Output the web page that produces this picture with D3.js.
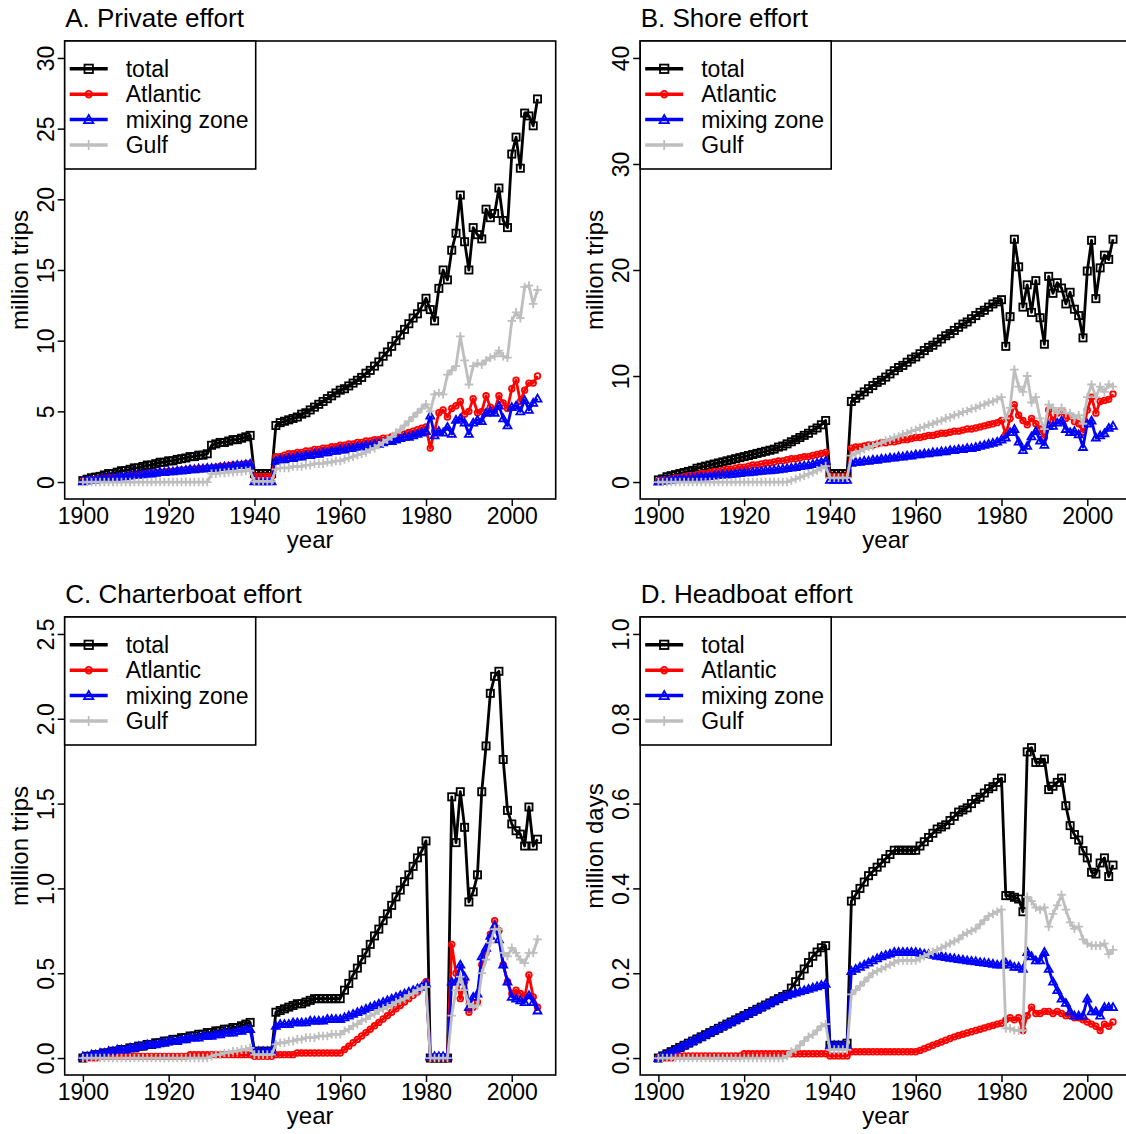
<!DOCTYPE html>
<html>
<head>
<meta charset="utf-8">
<script src="https://cdn.jsdelivr.net/npm/d3@7"></script>
<style>
  body { margin: 0; background: #fff; }
  text { font-family: "Liberation Sans", Arial, sans-serif; fill: #000; }
</style>
</head>
<body>
<svg id="chart" width="1126" height="1134"></svg>
<script>
// ---- data: recreational fishing effort by region, 1900-2006 ----
const firstYear = 1900, lastYear = 2006;
const years = d3.range(firstYear, lastYear + 1);

const seriesNames = ["total", "Atlantic", "mixing zone", "Gulf"];
const xTickValues = [1900, 1920, 1940, 1960, 1980, 2000];

// A. Private effort (million trips)
const privateTotal = [
  0.1,0.2,0.3,0.35,0.4,0.5,0.6,0.6,0.7,0.8,
  0.8,0.9,1.0,1.0,1.1,1.2,1.2,1.3,1.4,1.4,
  1.5,1.5,1.6,1.65,1.7,1.8,1.8,1.9,1.9,2.0,
  2.6,2.7,2.8,2.8,2.9,3.0,3.0,3.1,3.2,3.3,
  0.6,0.6,0.6,0.6,0.6,4.0,4.2,4.3,4.4,4.5,
  4.6,4.8,4.9,5.1,5.3,5.5,5.7,5.9,6.1,6.3,
  6.5,6.6,6.8,7.0,7.2,7.4,7.7,7.9,8.2,8.5,
  8.9,9.2,9.6,10.0,10.4,10.8,11.2,11.6,11.9,12.4,
  13.0,12.2,11.4,13.7,15.0,14.3,16.4,17.6,20.3,17.0,
  15.0,18.0,17.5,17.2,19.3,18.7,19.0,20.8,18.5,18.0,
  23.2,24.4,22.2,26.1,25.9,25.2,27.1
];
const privateAtlantic = [
  0.05,0.1,0.15,0.2,0.2,0.25,0.3,0.3,0.35,0.4,
  0.4,0.45,0.5,0.5,0.55,0.6,0.6,0.65,0.7,0.7,
  0.75,0.75,0.8,0.85,0.85,0.9,0.9,0.95,0.95,1.0,
  1.0,1.05,1.1,1.1,1.15,1.2,1.2,1.25,1.3,1.3,
  0.4,0.4,0.4,0.4,0.4,1.8,1.8,1.9,2.0,2.0,
  2.1,2.1,2.2,2.2,2.3,2.3,2.4,2.4,2.5,2.5,
  2.6,2.6,2.7,2.7,2.8,2.8,2.9,2.9,3.0,3.0,
  3.1,3.1,3.2,3.3,3.3,3.4,3.5,3.6,3.7,3.8,
  3.9,2.4,3.6,4.9,5.1,4.6,5.2,5.4,5.7,4.8,
  5.0,5.9,4.9,5.0,6.1,5.3,5.1,6.1,5.6,5.2,
  6.6,7.2,5.7,6.5,7.0,7.0,7.5
];
const privateMixing = [
  0.05,0.1,0.15,0.15,0.2,0.25,0.3,0.3,0.35,0.4,
  0.4,0.45,0.5,0.5,0.55,0.6,0.6,0.65,0.7,0.7,
  0.75,0.75,0.8,0.8,0.85,0.9,0.9,0.95,0.95,1.0,
  1.0,1.0,1.05,1.1,1.1,1.15,1.2,1.2,1.25,1.3,
  0.05,0.05,0.05,0.05,0.05,1.5,1.6,1.6,1.7,1.7,
  1.8,1.8,1.9,1.9,2.0,2.0,2.1,2.1,2.2,2.2,
  2.3,2.3,2.4,2.4,2.5,2.5,2.6,2.6,2.7,2.7,
  2.8,2.9,2.9,3.0,3.1,3.2,3.2,3.3,3.4,3.5,
  3.6,4.7,3.3,3.6,3.5,3.9,3.4,4.4,4.5,4.2,
  3.4,4.2,4.4,4.3,4.9,5.0,4.9,5.4,4.5,4.0,
  5.3,5.4,5.0,5.8,5.1,5.6,5.9
];
const privateGulf = [
  0,0,0,0,0,0,0,0,0,0,
  0,0,0,0,0,0,0,0,0,0,
  0,0,0,0,0,0,0,0,0,0,
  0.6,0.6,0.65,0.65,0.7,0.7,0.75,0.75,0.8,0.8,
  0.05,0.05,0.05,0.05,0.05,0.9,1.0,1.0,1.0,1.1,
  1.1,1.1,1.2,1.2,1.3,1.3,1.3,1.4,1.4,1.5,
  1.5,1.6,1.7,1.8,1.9,2.0,2.1,2.3,2.4,2.6,
  2.8,3.0,3.2,3.5,3.7,4.0,4.3,4.6,4.9,5.2,
  5.5,5.0,6.2,6.3,6.2,7.6,7.9,8.2,10.3,8.6,
  6.9,8.2,8.4,8.3,8.6,8.8,8.9,9.3,8.9,8.8,
  11.4,12.0,11.6,13.8,13.9,12.6,13.6
];

// B. Shore effort (million trips)
const shoreTotal = [
  0.2,0.3,0.5,0.6,0.7,0.8,0.9,1.0,1.1,1.3,
  1.4,1.5,1.6,1.7,1.8,1.9,2.0,2.1,2.2,2.3,
  2.4,2.5,2.6,2.7,2.8,2.9,3.0,3.1,3.3,3.4,
  3.6,3.8,4.0,4.2,4.4,4.6,4.9,5.1,5.4,5.8,
  0.8,0.8,0.8,0.8,0.8,7.6,7.9,8.2,8.5,8.8,
  9.1,9.4,9.6,9.9,10.2,10.5,10.8,11.0,11.3,11.6,
  11.8,12.1,12.4,12.7,12.9,13.2,13.5,13.8,14.0,14.3,
  14.6,14.9,15.1,15.4,15.7,16.0,16.2,16.5,16.8,17.0,
  17.2,12.8,15.6,22.9,20.3,16.5,18.6,16.0,19.0,15.5,
  13.0,19.4,17.8,18.8,18.3,16.8,17.9,16.3,15.7,13.6,
  19.9,22.8,17.3,20.2,21.4,21.0,22.9
];
const shoreAtlantic = [
  0.1,0.2,0.2,0.3,0.4,0.4,0.5,0.6,0.6,0.7,
  0.8,0.8,0.9,1.0,1.0,1.1,1.2,1.2,1.3,1.4,
  1.4,1.5,1.6,1.6,1.7,1.8,1.8,1.9,2.0,2.0,
  2.1,2.2,2.2,2.3,2.4,2.4,2.5,2.6,2.7,2.8,
  0.5,0.5,0.5,0.5,0.5,3.2,3.3,3.3,3.4,3.5,
  3.5,3.6,3.7,3.7,3.8,3.8,3.9,4.0,4.0,4.1,
  4.2,4.2,4.3,4.4,4.4,4.5,4.6,4.6,4.7,4.8,
  4.8,4.9,5.0,5.0,5.1,5.2,5.3,5.4,5.5,5.6,
  5.8,4.5,6.0,7.3,6.3,5.8,5.4,6.0,5.5,5.0,
  4.2,6.8,5.8,6.5,6.7,6.0,6.2,5.7,5.5,4.7,
  6.8,8.0,6.5,7.6,7.7,7.8,8.3
];
const shoreMixing = [
  0.05,0.1,0.15,0.2,0.25,0.3,0.3,0.35,0.4,0.45,
  0.5,0.5,0.55,0.6,0.65,0.7,0.7,0.75,0.8,0.85,
  0.9,0.9,0.95,1.0,1.05,1.1,1.1,1.15,1.2,1.25,
  1.3,1.35,1.4,1.5,1.55,1.6,1.7,1.8,1.9,2.0,
  0.2,0.2,0.2,0.2,0.2,1.8,1.9,1.9,2.0,2.0,
  2.1,2.1,2.2,2.2,2.3,2.3,2.4,2.4,2.5,2.5,
  2.6,2.6,2.7,2.7,2.8,2.8,2.9,2.9,3.0,3.0,
  3.1,3.1,3.2,3.2,3.3,3.4,3.5,3.6,3.7,3.8,
  4.0,4.2,4.7,5.0,3.8,3.0,3.4,4.3,4.8,3.9,
  3.5,5.3,5.3,5.6,5.8,5.0,4.7,4.8,4.5,3.3,
  5.5,5.8,4.2,4.4,4.6,5.1,5.3
];
const shoreGulf = [
  0,0,0,0,0,0,0,0,0,0,
  0,0,0,0,0,0,0,0,0,0,
  0,0,0,0,0,0,0,0,0,0,
  0.0,0.15,0.3,0.45,0.6,0.75,0.9,1.1,1.3,1.5,
  0.4,0.4,0.4,0.4,0.4,2.5,2.7,2.9,3.1,3.3,
  3.4,3.6,3.7,3.9,4.0,4.2,4.3,4.5,4.6,4.8,
  4.9,5.1,5.2,5.4,5.5,5.7,5.8,6.0,6.1,6.3,
  6.4,6.6,6.7,6.9,7.0,7.2,7.3,7.5,7.6,7.8,
  8.0,6.0,7.0,10.6,9.0,8.5,10.0,7.5,8.0,6.0,
  5.0,7.3,7.0,6.5,7.0,6.5,6.5,6.0,6.3,5.5,
  8.0,9.2,8.0,9.0,8.5,9.2,9.0
];

// C. Charterboat effort (million trips)
const charterTotal = [
  0.0,0.01,0.01,0.02,0.02,0.03,0.03,0.04,0.04,0.05,
  0.05,0.06,0.06,0.07,0.07,0.08,0.08,0.09,0.09,0.10,
  0.10,0.11,0.11,0.12,0.12,0.13,0.13,0.14,0.14,0.15,
  0.15,0.16,0.16,0.17,0.17,0.18,0.18,0.19,0.20,0.21,
  0.04,0.04,0.04,0.04,0.04,0.27,0.28,0.29,0.30,0.31,
  0.32,0.32,0.33,0.34,0.35,0.35,0.35,0.35,0.35,0.35,
  0.35,0.40,0.44,0.49,0.53,0.58,0.62,0.67,0.72,0.76,
  0.81,0.85,0.90,0.95,0.99,1.04,1.08,1.13,1.18,1.22,
  1.28,0.0,0.0,0.0,0.0,0.0,1.54,1.27,1.57,1.36,
  0.92,0.98,1.08,1.57,1.84,2.15,2.25,2.28,1.76,1.46,
  1.38,1.34,1.32,1.25,1.48,1.25,1.29
];
const charterAtlantic = [
  0.0,0.0,0.0,0.0,0.01,0.01,0.01,0.01,0.01,0.01,
  0.01,0.01,0.01,0.01,0.01,0.01,0.01,0.01,0.01,0.01,
  0.01,0.01,0.01,0.01,0.01,0.02,0.02,0.02,0.02,0.02,
  0.02,0.02,0.02,0.02,0.02,0.02,0.02,0.02,0.02,0.02,
  0.01,0.01,0.01,0.01,0.01,0.02,0.02,0.02,0.02,0.02,
  0.03,0.03,0.03,0.03,0.03,0.03,0.03,0.03,0.03,0.03,
  0.03,0.05,0.07,0.09,0.11,0.13,0.15,0.17,0.19,0.21,
  0.23,0.25,0.27,0.29,0.31,0.33,0.35,0.37,0.39,0.42,
  0.45,0.0,0.0,0.0,0.0,0.0,0.67,0.50,0.35,0.45,
  0.27,0.30,0.33,0.55,0.62,0.73,0.81,0.75,0.55,0.45,
  0.38,0.40,0.38,0.36,0.49,0.36,0.30
];
const charterMixing = [
  0.01,0.01,0.02,0.02,0.03,0.03,0.04,0.04,0.05,0.05,
  0.05,0.06,0.06,0.07,0.07,0.08,0.08,0.08,0.09,0.09,
  0.10,0.10,0.10,0.11,0.11,0.12,0.12,0.12,0.13,0.13,
  0.13,0.14,0.14,0.15,0.15,0.15,0.16,0.16,0.17,0.17,
  0.04,0.04,0.04,0.04,0.04,0.19,0.20,0.20,0.20,0.21,
  0.21,0.21,0.21,0.22,0.22,0.22,0.22,0.23,0.23,0.23,
  0.23,0.24,0.25,0.26,0.27,0.28,0.29,0.30,0.31,0.32,
  0.33,0.34,0.35,0.36,0.37,0.38,0.39,0.40,0.41,0.42,
  0.44,0.01,0.01,0.01,0.01,0.01,0.45,0.45,0.55,0.48,
  0.30,0.36,0.38,0.60,0.65,0.72,0.78,0.70,0.55,0.45,
  0.36,0.35,0.34,0.33,0.37,0.33,0.28
];
const charterGulf = [
  0,0,0,0,0,0,0,0,0,0,
  0,0,0,0,0,0,0,0,0,0,
  0,0,0,0,0,0,0,0,0,0,
  0.01,0.02,0.02,0.03,0.03,0.04,0.04,0.05,0.05,0.06,
  0.02,0.02,0.02,0.02,0.02,0.08,0.09,0.09,0.10,0.10,
  0.11,0.11,0.12,0.12,0.12,0.13,0.13,0.13,0.14,0.14,
  0.14,0.16,0.17,0.19,0.20,0.22,0.23,0.25,0.26,0.28,
  0.29,0.30,0.31,0.33,0.34,0.35,0.37,0.38,0.40,0.41,
  0.42,0.0,0.0,0.0,0.0,0.0,0.25,0.40,0.48,0.40,
  0.32,0.30,0.31,0.50,0.58,0.68,0.76,0.76,0.62,0.60,
  0.65,0.62,0.58,0.56,0.62,0.62,0.70
];

// D. Headboat effort (million days)
const headboatTotal = [
  0.0,0.005,0.01,0.015,0.02,0.025,0.03,0.035,0.04,0.045,
  0.05,0.055,0.06,0.065,0.07,0.075,0.08,0.085,0.09,0.095,
  0.10,0.105,0.11,0.115,0.12,0.125,0.13,0.135,0.14,0.145,
  0.15,0.165,0.18,0.195,0.21,0.225,0.24,0.25,0.26,0.265,
  0.03,0.03,0.03,0.03,0.035,0.37,0.385,0.40,0.415,0.43,
  0.44,0.45,0.46,0.47,0.48,0.49,0.49,0.49,0.49,0.49,
  0.49,0.50,0.51,0.52,0.53,0.54,0.545,0.55,0.56,0.57,
  0.58,0.585,0.59,0.60,0.61,0.615,0.625,0.635,0.64,0.65,
  0.66,0.383,0.383,0.379,0.375,0.345,0.722,0.732,0.697,0.697,
  0.705,0.633,0.641,0.650,0.660,0.595,0.548,0.527,0.514,0.489,
  0.472,0.438,0.434,0.46,0.472,0.428,0.455
];
const headboatAtlantic = [
  0.0,0.0,0.0,0.0,0.005,0.005,0.005,0.005,0.005,0.005,
  0.005,0.005,0.005,0.005,0.005,0.005,0.005,0.005,0.005,0.005,
  0.01,0.01,0.01,0.01,0.01,0.01,0.01,0.01,0.01,0.01,
  0.01,0.01,0.01,0.01,0.01,0.01,0.01,0.01,0.01,0.01,
  0.005,0.005,0.005,0.005,0.005,0.015,0.015,0.015,0.015,0.015,
  0.015,0.015,0.015,0.015,0.015,0.015,0.015,0.015,0.015,0.015,
  0.015,0.018,0.022,0.026,0.030,0.034,0.038,0.042,0.046,0.050,
  0.053,0.056,0.059,0.062,0.065,0.068,0.071,0.074,0.077,0.080,
  0.082,0.09,0.095,0.09,0.095,0.065,0.10,0.12,0.105,0.105,
  0.11,0.11,0.105,0.11,0.105,0.10,0.10,0.095,0.095,0.09,
  0.085,0.08,0.075,0.065,0.08,0.075,0.085
];
const headboatMixing = [
  0.0,0.005,0.01,0.015,0.02,0.025,0.03,0.035,0.04,0.045,
  0.05,0.055,0.06,0.065,0.07,0.075,0.08,0.085,0.09,0.095,
  0.10,0.105,0.11,0.115,0.12,0.125,0.13,0.135,0.14,0.145,
  0.148,0.151,0.154,0.157,0.16,0.163,0.166,0.169,0.172,0.175,
  0.03,0.03,0.03,0.03,0.03,0.205,0.21,0.215,0.22,0.225,
  0.23,0.235,0.24,0.243,0.246,0.25,0.25,0.25,0.25,0.25,
  0.25,0.248,0.246,0.245,0.243,0.241,0.24,0.238,0.236,0.235,
  0.233,0.232,0.23,0.229,0.228,0.226,0.225,0.224,0.222,0.22,
  0.22,0.225,0.22,0.215,0.215,0.21,0.25,0.24,0.23,0.23,
  0.25,0.21,0.18,0.16,0.14,0.13,0.11,0.10,0.10,0.10,
  0.14,0.11,0.11,0.10,0.12,0.12,0.12
];
const headboatGulf = [
  0,0,0,0,0,0,0,0,0,0,
  0,0,0,0,0,0,0,0,0,0,
  0,0,0,0,0,0,0,0,0,0,
  0.005,0.015,0.02,0.03,0.04,0.05,0.055,0.065,0.075,0.08,
  0.02,0.02,0.02,0.02,0.02,0.15,0.16,0.17,0.18,0.19,
  0.20,0.205,0.21,0.215,0.22,0.225,0.23,0.23,0.23,0.23,
  0.23,0.235,0.24,0.245,0.25,0.255,0.26,0.265,0.27,0.275,
  0.28,0.29,0.295,0.30,0.305,0.315,0.325,0.335,0.34,0.345,
  0.35,0.07,0.07,0.065,0.065,0.065,0.38,0.37,0.355,0.35,
  0.355,0.31,0.34,0.36,0.385,0.35,0.32,0.305,0.31,0.28,
  0.27,0.265,0.265,0.265,0.27,0.245,0.255
];

// y-axis tick values for each panel
const privateTicks = [0, 5, 10, 15, 20, 25, 30];
const shoreTicks = [0, 10, 20, 30, 40];
const charterTicks = [0, 0.5, 1.0, 1.5, 2.0, 2.5];
const headboatTicks = [0, 0.2, 0.4, 0.6, 0.8, 1.0];

// ---- layout ----
const panels = [
  { title: "A. Private effort", ylab: "million trips", left: 64.7, top: 41,
    ymax: 30, ticks: privateTicks, fmt: d3.format("d"),
    data: [privateTotal, privateAtlantic, privateMixing, privateGulf] },
  { title: "B. Shore effort", ylab: "million trips", left: 640.2, top: 41,
    ymax: 40, ticks: shoreTicks, fmt: d3.format("d"),
    data: [shoreTotal, shoreAtlantic, shoreMixing, shoreGulf] },
  { title: "C. Charterboat effort", ylab: "million trips", left: 64.7, top: 617,
    ymax: 2.5, ticks: charterTicks, fmt: d3.format(".1f"),
    data: [charterTotal, charterAtlantic, charterMixing, charterGulf] },
  { title: "D. Headboat effort", ylab: "million days", left: 640.2, top: 617,
    ymax: 1.0, ticks: headboatTicks, fmt: d3.format(".1f"),
    data: [headboatTotal, headboatAtlantic, headboatMixing, headboatGulf] }
];
const plotW = 491, plotH = 458;
const colors = ["#000000", "#ff0000", "#0000ff", "#bebebe"];
const shapes = ["square", "circle", "triangle", "plus"];

const svg = d3.select("#chart");

function marker(g, shape, color, x, y, s) {
  if (shape === "square") {
    g.append("rect").attr("x", x - s).attr("y", y - s)
      .attr("width", 2 * s).attr("height", 2 * s)
      .attr("fill", "none").attr("stroke", color).attr("stroke-width", 1.8);
  } else if (shape === "circle") {
    g.append("circle").attr("cx", x).attr("cy", y).attr("r", s * 0.78)
      .attr("fill", "none").attr("stroke", color).attr("stroke-width", 1.8);
  } else if (shape === "triangle") {
    const h = s * 1.1;
    g.append("path")
      .attr("d", `M${x},${y - h}L${x + h},${y + h * 0.75}L${x - h},${y + h * 0.75}Z`)
      .attr("fill", "none").attr("stroke", color).attr("stroke-width", 1.8);
  } else {
    const h = s * 1.2;
    g.append("path")
      .attr("d", `M${x - h},${y}H${x + h}M${x},${y - h}V${y + h}`)
      .attr("fill", "none").attr("stroke", color).attr("stroke-width", 1.8);
  }
}

panels.forEach(p => {
  const xPad = (lastYear - firstYear) * 0.04;
  const yPad = p.ymax * 0.04;
  const x = d3.scaleLinear().domain([firstYear - xPad, lastYear + xPad])
    .range([p.left, p.left + plotW]);
  const y = d3.scaleLinear().domain([-yPad, p.ymax + yPad])
    .range([p.top + plotH, p.top]);

  const g = svg.append("g");

  // series: total, Atlantic, mixing zone, Gulf (Gulf drawn last)
  p.data.forEach((vals, i) => {
    const pts = years.map((yr, k) => [yr, vals[k]]);
    g.append("path")
      .datum(pts)
      .attr("d", d3.line().x(d => x(d[0])).y(d => y(d[1])))
      .attr("fill", "none").attr("stroke", colors[i])
      .attr("stroke-width", 2.8).attr("stroke-linejoin", "round");
    const mg = g.append("g");
    pts.forEach(d => marker(mg, shapes[i], colors[i], x(d[0]), y(d[1]), 3.6));
  });

  // x axis
  const xAxis = g.append("g")
    .attr("transform", `translate(0,${p.top + plotH})`)
    .call(d3.axisBottom(x).tickValues(xTickValues).tickFormat(d3.format("d"))
      .tickSize(7).tickPadding(2));
  xAxis.select(".domain").remove();
  xAxis.selectAll("line").attr("stroke", "#000").attr("stroke-width", 1.5);
  xAxis.selectAll("text").attr("font-size", 23).attr("fill", "#000")
    .attr("font-family", "Liberation Sans, Arial, sans-serif");

  // y axis with labels parallel to the axis
  const yAxis = g.append("g")
    .attr("transform", `translate(${p.left},0)`)
    .call(d3.axisLeft(y).tickValues(p.ticks).tickFormat(p.fmt).tickSize(7));
  yAxis.select(".domain").remove();
  yAxis.selectAll("line").attr("stroke", "#000").attr("stroke-width", 1.5);
  yAxis.selectAll("text")
    .attr("x", null).attr("dy", null)
    .attr("transform", "translate(-11,0) rotate(-90)")
    .attr("text-anchor", "middle")
    .attr("font-size", 23).attr("fill", "#000")
    .attr("font-family", "Liberation Sans, Arial, sans-serif");

  // plot frame
  g.append("rect").attr("x", p.left).attr("y", p.top)
    .attr("width", plotW).attr("height", plotH)
    .attr("fill", "none").attr("stroke", "#000").attr("stroke-width", 1.6);

  // titles
  g.append("text").attr("x", p.left + 0.5).attr("y", p.top - 14)
    .attr("font-size", 26).text(p.title);
  g.append("text").attr("x", p.left + plotW / 2).attr("y", p.top + plotH + 49)
    .attr("text-anchor", "middle").attr("font-size", 24).text("year");
  g.append("text")
    .attr("transform", `translate(${p.left - 37},${p.top + plotH / 2}) rotate(-90)`)
    .attr("text-anchor", "middle").attr("font-size", 24).text(p.ylab);

  // legend
  const lg = g.append("g").attr("transform", `translate(${p.left},${p.top})`);
  lg.append("rect").attr("width", 191).attr("height", 128)
    .attr("fill", "#fff").attr("stroke", "#000").attr("stroke-width", 1.6);
  seriesNames.forEach((name, i) => {
    const ly = 27.8 + i * 25.4;
    lg.append("line").attr("x1", 5).attr("x2", 43).attr("y1", ly).attr("y2", ly)
      .attr("stroke", colors[i]).attr("stroke-width", 3.5);
    marker(lg, shapes[i], colors[i], 24, ly, 4.2);
    lg.append("text").attr("x", 61).attr("y", ly).attr("dy", "0.35em")
      .attr("font-size", 23).text(name);
  });
});
</script>
</body>
</html>
